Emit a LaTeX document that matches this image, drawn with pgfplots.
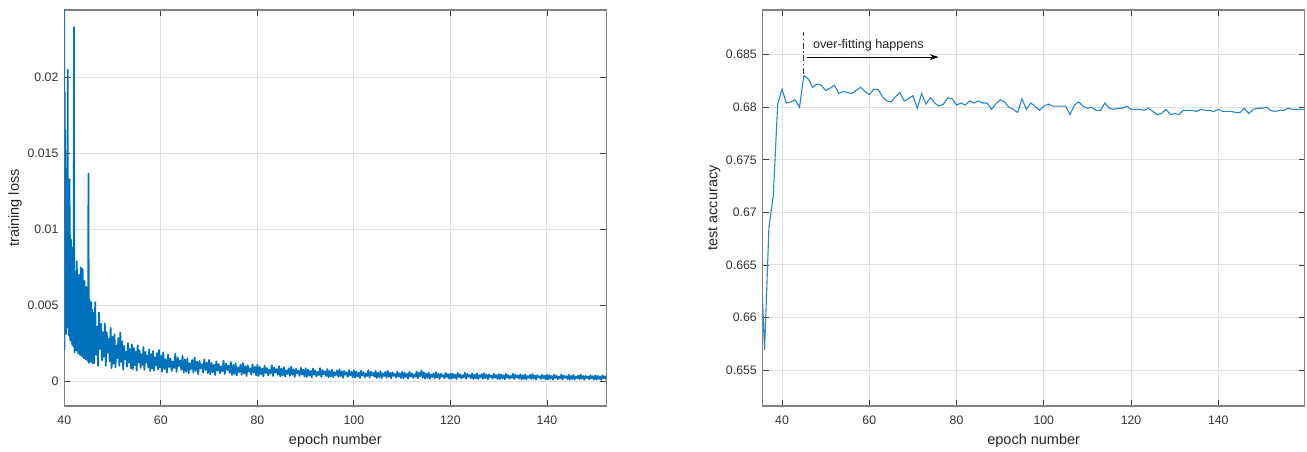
\documentclass[border=0pt]{standalone}
\usepackage{fontspec}
\setmainfont{Liberation Sans}
\usepackage{pgfplots}
\pgfplotsset{compat=1.18}
\usetikzlibrary{arrows.meta}

\definecolor{mblue}{RGB}{0,114,189}

\pgfplotsset{
  matbox/.style={
    scale only axis, width=542pt, height=396pt,
    anchor=south west,
    axis line style={black!50, line width=1.1pt},
    tick align=inside, major tick length=6pt,
    tick style={black!75, line width=0.8pt},
    grid=major, grid style={black!12, line width=1pt},
    /pgf/number format/assume math mode=true,
    ticklabel style={font=\fontsize{12.3}{14}\selectfont, text=black!80},
    xticklabel style={anchor=base, yshift=-19pt},
    yticklabel style={xshift=-2.4pt},
    label style={font=\fontsize{14.5}{17}\selectfont, text=black!85},
    xlabel style={at={(axis description cs:0.5,-0.0972)}, anchor=base},
    ylabel style={at={(axis description cs:-0.0836,0.5)}, anchor=base},
    xtick={40,60,80,100,120,140},
  }
}

\begin{document}
\begin{tikzpicture}
\useasboundingbox (0,0) rectangle (1307pt,452pt);

% left: training loss
\begin{axis}[matbox, at={(64.3pt,46pt)},
  xmin=40, xmax=152.3, ymin=-0.00164, ymax=0.02443,
  ytick={0,0.005,0.01,0.015,0.02},
  yticklabels={0,0.005,0.01,0.015,0.02},
  xlabel={epoch number}, ylabel={training loss}]
\addplot[mblue, line width=1.7pt, sharp plot, line join=round] coordinates {
(40.00,0.0260)(40.05,0.0021)(40.10,0.0190)(40.15,0.0034)(40.20,0.0165)(40.25,0.0040)(40.30,0.0140)(40.35,0.0031)(40.40,0.0128)(40.45,0.0045)
(40.50,0.0120)(40.55,0.0036)(40.60,0.0131)(40.65,0.0042)(40.70,0.0205)(40.75,0.0035)(40.80,0.0126)(40.85,0.0040)(40.90,0.0132)(40.95,0.0030)
(41.00,0.0127)(41.05,0.0034)(41.10,0.0133)(41.15,0.0029)(41.20,0.0096)(41.25,0.0027)(41.30,0.0086)(41.35,0.0031)(41.40,0.0093)(41.45,0.0026)
(41.50,0.0079)(41.55,0.0029)(41.60,0.0088)(41.65,0.0024)(41.70,0.0070)(41.75,0.0028)(41.80,0.0082)(41.85,0.0023)(41.90,0.0068)(41.95,0.0025)
(42.00,0.0233)(42.1,0.0019)(42.2,0.0072)(42.3,0.0024)(42.4,0.0061)(42.5,0.0020)(42.6,0.0079)(42.7,0.0030)(42.8,0.0065)(42.9,0.0018)
(43.0,0.0070)(43.1,0.0026)(43.2,0.0056)(43.3,0.0017)(43.4,0.0075)(43.5,0.0028)(43.6,0.0064)(43.7,0.0016)(43.8,0.0074)(43.9,0.0025)
(44.0,0.0060)(44.1,0.0015)(44.2,0.0066)(44.3,0.0023)(44.4,0.0058)(44.5,0.0014)(44.6,0.0062)(44.7,0.0027)(44.8,0.0055)(44.9,0.0013)
(45.0,0.01366)(45.1,0.0012)(45.2,0.0054)(45.3,0.0020)(45.4,0.0048)(45.5,0.00125)(45.6,0.0052)(45.7,0.0021)(45.8,0.0047)(45.9,0.00115)
(46.0,0.0045)(46.2,0.00119)(46.4,0.0052)(46.6,0.00174)(46.8,0.00359)(47.0,0.0010)(47.2,0.00452)(47.4,0.00211)(47.6,0.00378)(47.8,0.00137)
(48.0,0.00322)(48.2,0.00159)(48.4,0.0038)(48.6,0.0010)(48.8,0.00321)(49.0,0.00188)(49.2,0.00277)(49.4,0.00129)(49.6,0.00351)(49.8,0.00085)
(50.0,0.00292)(50.2,0.00114)(50.4,0.00308)(50.6,0.0009)(50.8,0.00235)(51.0,0.00151)(51.2,0.00284)(51.4,0.00102)(51.6,0.0032)(51.8,0.00126)
(52.0,0.0026)(52.2,0.00074)(52.4,0.00231)(52.6,0.00143)(52.8,0.00192)(53.0,0.00094)(53.2,0.0025)(53.4,0.00123)(53.6,0.00211)(53.8,0.00084)
(54.0,0.00241)(54.2,0.00079)(54.4,0.00219)(54.6,0.00105)(54.8,0.00193)(55.0,0.0007)(55.2,0.00236)(55.4,0.00123)(55.6,0.00201)(55.8,0.00088)
(56.0,0.00175)(56.2,0.00106)(56.4,0.00225)(56.6,0.00074)(56.8,0.00193)(57.0,0.00122)(57.2,0.00169)(57.4,0.0009)(57.6,0.00209)(57.8,0.00066)
(58.0,0.00177)(58.2,0.00083)(58.4,0.00198)(58.6,0.00069)(58.8,0.00155)(59.0,0.00105)(59.2,0.00184)(59.4,0.00076)(59.6,0.00205)(59.8,0.00091)
(60.0,0.00169)(60.25,0.00061)(60.5,0.0019)(60.75,0.0008)(61.0,0.00143)(61.25,0.00055)(61.5,0.00174)(61.75,0.00092)(62.0,0.00149)(62.25,0.00067)
(62.5,0.0013)(62.75,0.00086)(63.0,0.0018)(63.25,0.00061)(63.5,0.00155)(63.75,0.00099)(64.0,0.00136)(64.25,0.00074)(64.5,0.00167)(64.75,0.00055)
(65.0,0.00143)(65.25,0.00062)(65.5,0.0015)(65.75,0.00051)(66.0,0.00117)(66.25,0.00078)(66.5,0.00139)(66.75,0.00056)(67.0,0.00155)(67.25,0.00067)
(67.5,0.00128)(67.75,0.00045)(68.0,0.00133)(68.25,0.00084)(68.5,0.00111)(68.75,0.00056)(69.0,0.00144)(69.25,0.00073)(69.5,0.00122)(69.75,0.00051)
(70.0,0.00139)(70.25,0.00045)(70.5,0.00121)(70.75,0.00059)(71.0,0.00107)(71.25,0.0004)(71.5,0.0013)(71.75,0.00069)(72.0,0.00111)(72.25,0.0005)
(72.5,0.00097)(72.75,0.00064)(73.0,0.00135)(73.25,0.00045)(73.5,0.00116)(73.75,0.00073)(74.0,0.00102)(74.25,0.00054)(74.5,0.00126)(74.75,0.0004)
(75.0,0.00107)(75.25,0.00046)(75.5,0.00116)(75.75,0.00037)(76.0,0.0009)(76.25,0.00059)(76.5,0.00107)(76.75,0.00042)(77.0,0.0012)(77.25,0.0005)
(77.5,0.00098)(77.75,0.00033)(78.0,0.00103)(78.25,0.00063)(78.5,0.00085)(78.75,0.00042)(79.0,0.00111)(79.25,0.00055)(79.5,0.00094)(79.75,0.00037)
(80.0,0.00107)(80.25,0.00034)(80.5,0.00094)(80.75,0.00045)(81.0,0.00083)(81.25,0.0003)(81.5,0.00101)(81.75,0.00053)(82.0,0.00086)(82.25,0.00038)
(82.5,0.00075)(82.75,0.00049)(83.0,0.00105)(83.25,0.00034)(83.5,0.0009)(83.75,0.00056)(84.0,0.00079)(84.25,0.00041)(84.5,0.00098)(84.75,0.0003)
(85.0,0.00083)(85.25,0.00037)(85.5,0.00092)(85.75,0.0003)(86.0,0.00071)(86.25,0.00047)(86.5,0.00085)(86.75,0.00034)(87.0,0.00095)(87.25,0.00041)
(87.5,0.00078)(87.75,0.00027)(88.0,0.00081)(88.25,0.00051)(88.5,0.00068)(88.75,0.00034)(89.0,0.00088)(89.25,0.00044)(89.5,0.00075)(89.75,0.0003)
(90.0,0.00085)(90.25,0.00027)(90.5,0.00076)(90.75,0.00036)(91.0,0.00067)(91.25,0.00024)(91.5,0.00082)(91.75,0.00042)(92.0,0.0007)(92.25,0.0003)
(92.5,0.00061)(92.75,0.00039)(93.0,0.00085)(93.25,0.00027)(93.5,0.00073)(93.75,0.00045)(94.0,0.00064)(94.25,0.00033)(94.5,0.00079)(94.75,0.00024)
(95.0,0.00067)(95.25,0.0003)(95.5,0.00075)(95.75,0.00025)(96.0,0.00058)(96.25,0.00039)(96.5,0.0007)(96.75,0.00028)(97.0,0.00078)(97.25,0.00033)
(97.5,0.00064)(97.75,0.00022)(98.0,0.00067)(98.25,0.00042)(98.5,0.00056)(98.75,0.00028)(99.0,0.00072)(99.25,0.00036)(99.5,0.00061)(99.75,0.00025)
(100.0,0.0007)(100.25,0.00023)(100.5,0.00064)(100.75,0.0003)(101.0,0.00056)(101.25,0.0002)(101.5,0.00069)(101.75,0.00036)(102.0,0.00059)(102.25,0.00025)
(102.5,0.00051)(102.75,0.00033)(103.0,0.00072)(103.25,0.00023)(103.5,0.00062)(103.75,0.00038)(104.0,0.00054)(104.25,0.00028)(104.5,0.00067)(104.75,0.0002)
(105.0,0.00056)(105.25,0.00025)(105.5,0.00065)(105.75,0.0002)(106.0,0.0005)(106.25,0.00033)(106.5,0.0006)(106.75,0.00023)(107.0,0.00067)(107.25,0.00028)
(107.5,0.00055)(107.75,0.00018)(108.0,0.00057)(108.25,0.00035)(108.5,0.00047)(108.75,0.00023)(109.0,0.00062)(109.25,0.0003)(109.5,0.00052)(109.75,0.0002)
(110.0,0.0006)(110.25,0.00018)(110.5,0.00056)(110.75,0.00025)(111.0,0.00049)(111.25,0.00016)(111.5,0.00061)(111.75,0.0003)(112.0,0.00051)(112.25,0.00021)
(112.5,0.00044)(112.75,0.00028)(113.0,0.00063)(113.25,0.00018)(113.5,0.00054)(113.75,0.00032)(114.0,0.0007)(114.25,0.00023)(114.5,0.00058)(114.75,0.00016)
(115.0,0.00049)(115.25,0.00021)(115.5,0.00056)(115.75,0.00016)(116.0,0.00043)(116.25,0.00027)(116.5,0.00051)(116.75,0.00018)(117.0,0.00058)(117.25,0.00023)
(117.5,0.00047)(117.75,0.00014)(118.0,0.00049)(118.25,0.00029)(118.5,0.0004)(118.75,0.00018)(119.0,0.00054)(119.25,0.00025)(119.5,0.00045)(119.75,0.00016)
(120.0,0.00051)(120.25,0.00015)(120.5,0.00049)(120.75,0.00021)(121.0,0.00042)(121.25,0.00013)(121.5,0.00053)(121.75,0.00026)(122.0,0.00045)(122.25,0.00017)
(122.5,0.00038)(122.75,0.00024)(123.0,0.00055)(123.25,0.00015)(123.5,0.00047)(123.75,0.00028)(124.0,0.0004)(124.25,0.00019)(124.5,0.00051)(124.75,0.00013)
(125.0,0.00042)(125.25,0.00018)(125.5,0.0005)(125.75,0.00014)(126.0,0.00038)(126.25,0.00024)(126.5,0.00046)(126.75,0.00016)(127.0,0.00052)(127.25,0.0002)
(127.5,0.00042)(127.75,0.00012)(128.0,0.00044)(128.25,0.00026)(128.5,0.00036)(128.75,0.00016)(129.0,0.00048)(129.25,0.00022)(129.5,0.0004)(129.75,0.00014)
(130.0,0.00046)(130.25,0.00013)(130.5,0.00043)(130.75,0.00019)(131.0,0.00038)(131.25,0.00011)(131.5,0.00047)(131.75,0.00022)(132.0,0.0004)(132.25,0.00015)
(132.5,0.00034)(132.75,0.00021)(133.0,0.00049)(133.25,0.00013)(133.5,0.00041)(133.75,0.00024)(134.0,0.00036)(134.25,0.00017)(134.5,0.00045)(134.75,0.00011)
(135.0,0.00038)(135.25,0.00015)(135.5,0.00044)(135.75,0.00012)(136.0,0.00033)(136.25,0.00021)(136.5,0.00041)(136.75,0.00014)(137.0,0.00046)(137.25,0.00017)
(137.5,0.00037)(137.75,0.0001)(138.0,0.00039)(138.25,0.00023)(138.5,0.00032)(138.75,0.00014)(139.0,0.00042)(139.25,0.00019)(139.5,0.00035)(139.75,0.00012)
(140.0,0.00041)(140.25,0.00011)(140.5,0.00039)(140.75,0.00016)(141.0,0.00034)(141.25,0.00009)(141.5,0.00042)(141.75,0.0002)(142.0,0.00035)(142.25,0.00013)
(142.5,0.0003)(142.75,0.00018)(143.0,0.00044)(143.25,0.00011)(143.5,0.00037)(143.75,0.00021)(144.0,0.00032)(144.25,0.00014)(144.5,0.00041)(144.75,0.00009)
(145.0,0.00034)(145.25,0.00014)(145.5,0.0004)(145.75,0.00011)(146.0,0.0003)(146.25,0.00019)(146.5,0.00037)(146.75,0.00012)(147.0,0.00042)(147.25,0.00016)
(147.5,0.00034)(147.75,0.00009)(148.0,0.00035)(148.25,0.00021)(148.5,0.00029)(148.75,0.00012)(149.0,0.00039)(149.25,0.00017)(149.5,0.00032)(149.75,0.00011)
(150.0,0.00037)(150.25,0.0001)(150.5,0.00035)(150.75,0.00014)(151.0,0.0003)(151.25,0.00008)(151.5,0.00038)(151.75,0.00018)(152.0,0.00032)(152.25,0.00011)
};
\end{axis}

% right: test accuracy
\begin{axis}[matbox, at={(762.7pt,46pt)},
  xmin=35.57, xmax=159.8, ymin=0.65158, ymax=0.68925,
  ytick={0.655,0.66,0.665,0.67,0.675,0.68,0.685},
  yticklabels={0.655,0.66,0.665,0.67,0.675,0.68,0.685},
  xlabel={epoch number}, ylabel={test accuracy}]
\addplot[mblue!85, line width=1.1pt, sharp plot] coordinates {
(35,0.6671)(36,0.6569)(37,0.6686)(38,0.6716)(39,0.6803)(40,0.6817)(41,0.6804)(42,0.6805)(43,0.6807)(44,0.6800)
(45,0.6830)(46,0.6827)(47,0.6819)(48,0.6822)(49,0.6821)(50,0.6816)(51,0.6818)(52,0.6821)(53,0.6813)(54,0.6815)
(55,0.6814)(56,0.6813)(57,0.6816)(58,0.6819)(59,0.6815)(60,0.6812)(61,0.6817)(62,0.6817)(63,0.6810)(64,0.6806)
(65,0.6805)(66,0.6810)(67,0.6814)(68,0.6806)(69,0.6808)(70,0.6811)(71,0.6799)(72,0.6813)(73,0.6803)(74,0.6809)
(75,0.6804)(76,0.6801)(77,0.6803)(78,0.6809)(79,0.6808)(80,0.6802)(81,0.6804)(82,0.6802)(83,0.6806)(84,0.6804)
(85,0.6806)(86,0.6804)(87,0.6804)(88,0.6798)(89,0.6803)(90,0.6807)(91,0.6805)(92,0.6800)(93,0.6798)(94,0.6795)
(95,0.6808)(96,0.6798)(97,0.6804)(98,0.6801)(99,0.6797)(100,0.6801)(101,0.6803)(102,0.6801)(103,0.6801)(104,0.6801)
(105,0.6801)(106,0.6793)(107,0.6802)(108,0.6805)(109,0.6801)(110,0.6799)(111,0.6800)(112,0.6797)(113,0.6797)(114,0.6804)
(115,0.6799)(116,0.6798)(117,0.6799)(118,0.6799)(119,0.6801)(120,0.6798)(121,0.6798)(122,0.6798)(123,0.6797)(124,0.6799)
(125,0.6796)(126,0.6793)(127,0.6794)(128,0.6798)(129,0.6793)(130,0.6794)(131,0.6793)(132,0.6797)(133,0.6797)(134,0.6797)
(135,0.6796)(136,0.6798)(137,0.6797)(138,0.6797)(139,0.6796)(140,0.6798)(141,0.6796)(142,0.6796)(143,0.6796)(144,0.6795)
(145,0.6795)(146,0.6799)(147,0.6794)(148,0.6798)(149,0.6799)(150,0.6799)(151,0.6800)(152,0.6797)(153,0.6796)(154,0.6797)
(155,0.6797)(156,0.6799)(157,0.6798)(158,0.6798)(159,0.6798)(160,0.6798)
};
% annotation
\draw[black!80, line width=0.9pt, dash pattern=on 6pt off 2.5pt on 1.5pt off 2.5pt]
  (axis cs:45,0.6832) -- (axis cs:45,0.6872);
\draw[black, line width=0.8pt, -{Stealth[length=9pt,width=6pt]}]
  (axis cs:45.7,0.68477) -- (axis cs:75.9,0.68477);
\node[anchor=base west, inner sep=0pt, font=\fontsize{12.6}{14}\selectfont, text=black!85]
  at (axis cs:47.06,0.68557) {over-fitting happens};
\end{axis}
\end{tikzpicture}
\end{document}
